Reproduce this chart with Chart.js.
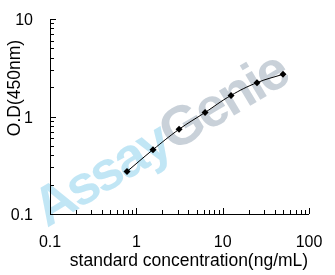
<!DOCTYPE html>
<html>
<head>
<meta charset="utf-8">
<script src="https://cdn.jsdelivr.net/npm/chart.js@4"></script>
<style>
  html, body { margin: 0; padding: 0; background: #fff; }
  #wrap { position: relative; width: 335px; height: 275px; }
</style>
</head>
<body>
<div id="wrap"><canvas id="chart" width="335" height="275"></canvas></div>
<script>
// standard curve data
const concentration = [0.78, 1.56, 3.125, 6.25, 12.5, 25, 50];
const odValues = [0.273, 0.457, 0.739, 1.10, 1.646, 2.225, 2.71];
const xTickLabels = [0.1, 1, 10, 100];
const yTickLabels = [0.1, 1, 10];
const xTitle = "standard concentration(ng/mL)";
const yTitle = "O.D(450nm)";
const FONT = "Liberation Sans, Arial, sans-serif";

function minorValues(min, max) {
    const vals = [];
    for (let d = min; d < max; d *= 10) {
        for (let k = 1; k < 10; k++) vals.push(+(d * k).toPrecision(3));
    }
    vals.push(max);
    return vals;
}

// draws the axis lines with inward ticks, titles and the watermark
const axesPlugin = {
    id: "axesPlugin",
    beforeDatasetsDraw(chart) {
        const ctx = chart.ctx;
        ctx.save();
        ctx.translate(47, 228);
        ctx.rotate(-31 * Math.PI / 180);
        ctx.font = "bold 55px " + FONT;
        ctx.letterSpacing = "-3px";
        ctx.textBaseline = "alphabetic";
        ctx.fillStyle = "rgba(160, 216, 240, 0.65)";
        ctx.fillText("Assay", 0, 0);
        const w = ctx.measureText("Assay").width;
        ctx.fillStyle = "rgba(165, 178, 192, 0.6)";
        ctx.fillText("Genie", w, 0);
        ctx.restore();
    },
    afterDraw(chart) {
        const ctx = chart.ctx;
        const xs = chart.scales.x, ys = chart.scales.y;
        const a = chart.chartArea;
        ctx.save();
        ctx.strokeStyle = "#000";
        ctx.lineWidth = 1;
        ctx.beginPath();
        ctx.moveTo(a.left + 0.5, a.top);
        ctx.lineTo(a.left + 0.5, a.bottom + 0.5);
        ctx.lineTo(a.right, a.bottom + 0.5);
        minorValues(0.1, 100).forEach(v => {
            const px = Math.round(xs.getPixelForValue(v)) + 0.5;
            const len = xTickLabels.includes(v) ? 6 : 4;
            ctx.moveTo(px, a.bottom);
            ctx.lineTo(px, a.bottom - len);
        });
        minorValues(0.1, 10).forEach(v => {
            const py = Math.round(ys.getPixelForValue(v)) + 0.5;
            const len = yTickLabels.includes(v) ? 6 : 4;
            ctx.moveTo(a.left, py);
            ctx.lineTo(a.left + len, py);
        });
        ctx.stroke();

        ctx.fillStyle = "#000";
        ctx.font = "17.5px " + FONT;
        ctx.textAlign = "center";
        ctx.textBaseline = "middle";
        ctx.fillText(xTitle, 189, 261);
        ctx.translate(15, 88);
        ctx.rotate(-Math.PI / 2);
        ctx.fillText(yTitle, 0, 0);
        ctx.restore();
    }
};

new Chart(document.getElementById("chart"), {
    type: "line",
    data: {
        datasets: [{
            data: concentration.map((c, i) => ({ x: c, y: odValues[i] })),
            borderColor: "#000",
            borderWidth: 1,
            backgroundColor: "#000",
            pointStyle: "rectRot",
            pointRadius: 3.5,
            pointBorderWidth: 0,
            tension: 0.4,
            fill: false,
        }]
    },
    options: {
        responsive: false,
        animation: false,
        layout: { padding: { top: 19, right: 26 } },
        plugins: {
            legend: { display: false },
            tooltip: { enabled: false },
        },
        scales: {
            x: {
                type: "logarithmic",
                min: 0.1,
                max: 100,
                grid: { display: false, drawTicks: false },
                border: { display: false },
                afterBuildTicks: s => { s.ticks = xTickLabels.map(v => ({ value: v })); },
                afterFit: s => { s.height = 61; s.paddingLeft = 0; s.paddingRight = 0; },
                ticks: {
                    color: "#000",
                    font: { family: FONT, size: 16 },
                    padding: 19,
                    maxRotation: 0,
                    autoSkip: false,
                    callback: v => String(v),
                },
            },
            y: {
                type: "logarithmic",
                min: 0.1,
                max: 10,
                grid: { display: false, drawTicks: false },
                border: { display: false },
                afterBuildTicks: s => { s.ticks = yTickLabels.map(v => ({ value: v })); },
                afterFit: s => { s.width = 50; s.paddingTop = 0; s.paddingBottom = 0; },
                ticks: {
                    color: "#000",
                    font: { family: FONT, size: 16 },
                    padding: 17,
                    labelOffset: 2,
                    autoSkip: false,
                    callback: v => String(v),
                },
            },
        },
    },
    plugins: [axesPlugin],
});
</script>
</body>
</html>
